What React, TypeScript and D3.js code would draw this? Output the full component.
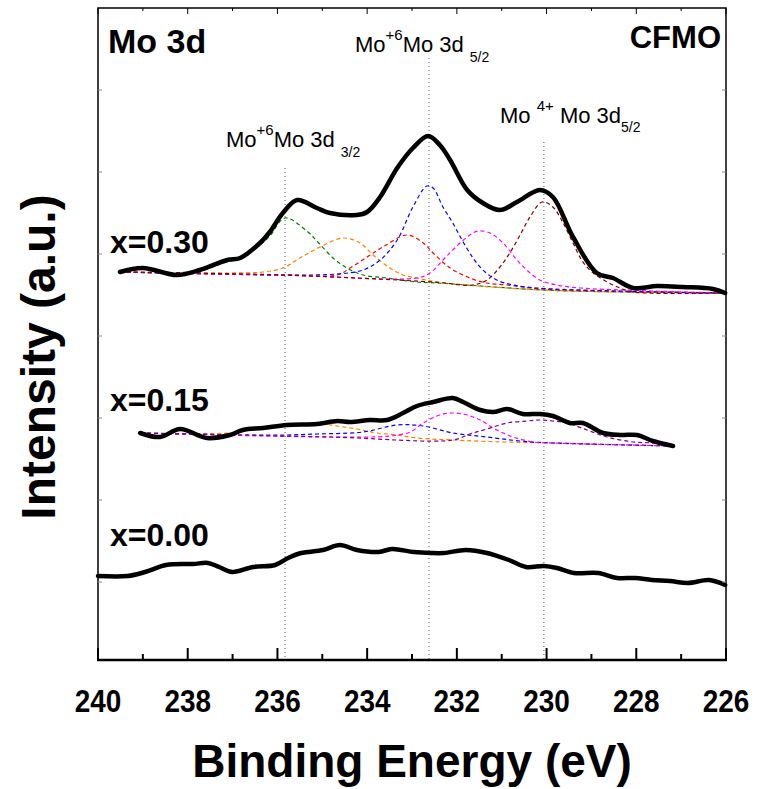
import React from 'react';
import * as d3 from 'd3';

type Pt = [number, number];

// binding energy (eV), intensity (a.u.)
const x030Total: Pt[] = [[239.51,388],[239.0,392],[238.24,385],[237.73,390],[237.12,400],[236.83,402],[236.39,417],[236.17,428],[235.88,447],[235.56,460],[235.12,452],[234.83,447],[234.23,445],[234.0,448],[233.71,463],[233.33,492],[232.98,512],[232.64,524],[232.38,515],[232.15,500],[231.77,470],[231.42,457],[231.04,450],[230.66,458],[230.15,470],[229.86,463],[229.41,423],[228.88,387],[228.52,382],[228.07,372],[227.54,374],[226.96,373],[226.29,371],[226.02,367]];
const x030Green: Pt[] = [[239.51,388],[237.73,389],[237.21,397],[236.83,402],[236.39,415],[236.17,424],[235.83,442],[235.32,428],[235.1,418],[234.76,402],[234.45,392],[234.09,385],[233.56,382],[232.89,378],[232.44,377],[230.08,370],[228.36,368],[226.02,367]];
const x030Orange: Pt[] = [[239.51,388],[237.1,387],[236.32,388],[235.88,392],[235.5,402],[235.05,413],[234.54,422],[234.16,417],[233.87,405],[233.49,392],[233.2,385],[232.89,382],[232.44,378],[230.08,370],[226.02,367]];
const x030Red: Pt[] = [[239.51,388],[235.88,385],[234.67,385],[234.38,392],[234.0,403],[233.65,413],[233.11,425],[232.75,417],[232.53,407],[232.15,392],[231.71,382],[231.33,377],[230.88,375],[230.08,371],[226.02,367]];
const x030Blue: Pt[] = [[239.51,388],[235.88,385],[234.67,386],[234.09,390],[233.71,400],[233.33,420],[232.98,453],[232.67,474],[232.53,472],[232.31,453],[232.09,437],[231.86,418],[231.64,402],[231.42,390],[231.11,380],[230.75,375],[230.21,372],[228.36,369],[226.02,367]];
const x030Magenta: Pt[] = [[239.51,388],[235.88,385],[232.89,382],[232.6,387],[232.31,400],[232.09,410],[231.77,423],[231.53,429],[231.26,427],[230.97,417],[230.66,400],[230.44,390],[230.15,380],[229.77,375],[229.25,372],[226.02,367]];
const x030Wine: Pt[] = [[239.51,388],[235.88,385],[232.53,378],[231.64,375],[231.33,380],[231.04,393],[230.82,407],[230.59,425],[230.37,443],[230.1,458],[229.86,453],[229.63,437],[229.41,417],[229.19,398],[228.96,387],[228.65,378],[228.36,372],[228.07,368],[226.02,367]];

const x015Total: Pt[] = [[239.06,227],[238.62,223],[238.17,231],[237.57,222],[237.06,225],[236.77,230],[236.32,232],[235.79,235],[235.12,236],[234.67,239],[234.38,238],[233.94,240],[233.56,240],[233.2,247],[232.89,254],[232.53,258],[232.09,262],[231.86,258],[231.48,250],[231.19,248],[230.88,251],[230.53,246],[230.15,246],[229.86,244],[229.48,237],[229.19,237],[228.74,227],[228.36,225],[227.98,225],[227.63,219],[227.18,214]];
const x015Orange: Pt[] = [[239.06,227],[237.06,227],[236.68,230],[235.79,235],[234.98,236],[234.67,234],[234.23,231],[233.78,227],[233.33,225],[232.89,222],[232.09,220],[230.97,218],[229.86,217],[227.18,214]];
const x015Blue: Pt[] = [[239.06,227],[236.83,225],[235.79,225],[235.12,226],[234.09,228],[233.33,235],[232.75,234],[232.09,227],[231.33,223],[230.59,219],[229.86,217],[227.18,214]];
const x015Magenta: Pt[] = [[239.06,227],[234.83,223],[233.49,224],[233.04,228],[232.75,237],[232.38,245],[232.09,247],[231.77,245],[231.48,240],[231.11,230],[230.75,223],[230.3,218],[229.86,217],[227.18,214]];
const x015Purple: Pt[] = [[239.06,227],[234.83,223],[232.09,220],[231.71,226],[231.33,231],[230.88,237],[230.44,239],[230.15,240],[229.86,239],[229.54,237],[229.1,230],[228.65,223],[228.07,218],[227.63,217],[227.18,214]];

const x000Total: Pt[] = [[240.0,84],[239.34,84],[238.95,88],[238.48,95],[237.88,96],[237.55,97],[237.3,93],[237.01,88],[236.54,93],[236.05,95],[235.76,102],[235.47,107],[234.98,110],[234.61,115],[234.23,110],[233.74,108],[233.45,111],[232.96,108],[232.58,107],[232.29,107],[231.8,110],[231.33,107],[230.84,100],[230.46,93],[230.06,94],[229.77,92],[229.39,87],[228.85,87],[228.43,82],[228.03,82],[227.65,80],[227.25,79],[226.85,77],[226.38,80],[226.02,75]];

// peak positions with the top of their guide line
const peakEnergies = [235.83, 232.62, 230.06];
const peakTops = [492, 602, 518];

const xTicks = [240, 238, 236, 234, 232, 230, 228, 226];
const xMinor = [239, 237, 235, 233, 231, 229, 227];
const yTicks = [570, 488, 406, 324, 242, 160, 78];

const fits030 = [
  { pts: x030Green, color: '#008000' },
  { pts: x030Orange, color: '#ff8000' },
  { pts: x030Red, color: '#ff0000' },
  { pts: x030Blue, color: '#0000ff' },
  { pts: x030Magenta, color: '#ff00ff' },
  { pts: x030Wine, color: '#800000' },
];
const fits015 = [
  { pts: x015Orange, color: '#ff8000' },
  { pts: x015Blue, color: '#0000ff' },
  { pts: x015Magenta, color: '#ff00ff' },
  { pts: x015Purple, color: '#800080' },
];

const W = 759, H = 789;
const L = 98, R = 726, T = 8, B = 660;
const font = 'Arial, "Liberation Sans", sans-serif';

export default function App() {
  const x = d3.scaleLinear().domain([240, 226]).range([L, R]);
  const y = d3.scaleLinear().domain([0, 652]).range([B, T]);
  const line = d3.line<Pt>().x(d => x(d[0])).y(d => y(d[1])).curve(d3.curveCatmullRom.alpha(0.5));

  return (
    <svg width={W} height={H} style={{ position: 'absolute', left: 0, top: 0, background: '#fff' }} fontFamily={font}>
      {/* guide lines */}
      {peakEnergies.map((e, i) => (
        <line key={'g' + i} x1={x(e)} x2={x(e)} y1={y(peakTops[i])} y2={B} stroke="#555" strokeWidth={1} strokeDasharray="1,3" />
      ))}

      {/* fitted components */}
      {fits030.map((f, i) => (
        <path key={'a' + i} d={line(f.pts) || ''} fill="none" stroke={f.color} strokeWidth={1.2} strokeDasharray="4,3" />
      ))}
      {fits015.map((f, i) => (
        <path key={'b' + i} d={line(f.pts) || ''} fill="none" stroke={f.color} strokeWidth={1.2} strokeDasharray="4,3" />
      ))}

      {/* spectra */}
      {[x030Total, x015Total, x000Total].map((s, i) => (
        <path key={'s' + i} d={line(s) || ''} fill="none" stroke="#000" strokeWidth={4.5} strokeLinejoin="round" strokeLinecap="round" />
      ))}

      {/* frame */}
      <rect x={L} y={T} width={R - L} height={B - T} fill="none" stroke="#000" strokeWidth={1.5} />
      <line x1={L - 1} x2={R + 1} y1={B} y2={B} stroke="#000" strokeWidth={2.5} />

      {/* ticks */}
      {xTicks.map(t => (
        <g key={'xt' + t}>
          <line x1={x(t)} x2={x(t)} y1={B} y2={B - 12} stroke="#000" strokeWidth={2} />
          <line x1={x(t)} x2={x(t)} y1={T} y2={T + 6} stroke="#000" strokeWidth={1} />
          <text transform={`translate(${x(t)},712) scale(0.9,1)`} textAnchor="middle" fontSize={31} fontWeight="bold">{t}</text>
        </g>
      ))}
      {xMinor.map(t => (
        <g key={'xm' + t}>
          <line x1={x(t)} x2={x(t)} y1={B} y2={B - 6} stroke="#000" strokeWidth={2} />
          <line x1={x(t)} x2={x(t)} y1={T} y2={T + 3} stroke="#000" strokeWidth={1} />
        </g>
      ))}
      {yTicks.map(t => (
        <g key={'yt' + t}>
          <line x1={L} x2={L + 4} y1={y(t)} y2={y(t)} stroke="#888" strokeWidth={1} />
          <line x1={R} x2={R - 4} y1={y(t)} y2={y(t)} stroke="#888" strokeWidth={1} />
        </g>
      ))}

      {/* axis titles */}
      <text x={412} y={777} textAnchor="middle" fontSize={46} fontWeight="bold">Binding Energy (eV)</text>
      <text transform="translate(55,357) rotate(-90)" textAnchor="middle" fontSize={48} fontWeight="bold">Intensity (a.u.)</text>

      {/* panel labels */}
      <text x={108} y={53} fontSize={34} fontWeight="bold">Mo 3d</text>
      <text x={721} y={48} textAnchor="end" fontSize={31} fontWeight="bold">CFMO</text>
      <text x={110} y={253} fontSize={32} fontWeight="bold">x=0.30</text>
      <text x={110} y={411} fontSize={32} fontWeight="bold">x=0.15</text>
      <text x={110} y={546} fontSize={32} fontWeight="bold">x=0.00</text>

      {/* peak labels */}
      <text x={355} y={52} fontSize={22}>
        Mo<tspan dy={-12} fontSize={15}>+6</tspan><tspan dy={12}>Mo 3d</tspan><tspan dx={6} dy={10} fontSize={14}>5/2</tspan>
      </text>
      <text x={226} y={147} fontSize={22}>
        Mo<tspan dy={-12} fontSize={15}>+6</tspan><tspan dy={12}>Mo 3d</tspan><tspan dx={6} dy={10} fontSize={14}>3/2</tspan>
      </text>
      <text x={500} y={123} fontSize={22}>
        Mo <tspan dy={-12} fontSize={15}>4+</tspan><tspan dy={12}> Mo 3d</tspan><tspan dy={9} fontSize={14}>5/2</tspan>
      </text>
    </svg>
  );
}
